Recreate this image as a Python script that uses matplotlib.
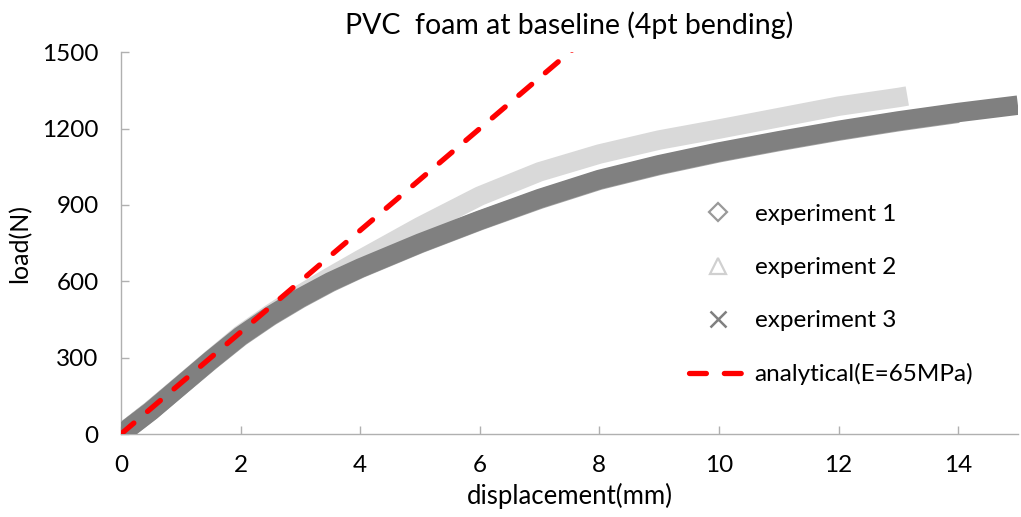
import matplotlib
matplotlib.use("Agg")
import matplotlib.pyplot as plt
from matplotlib.lines import Line2D

plt.rcParams['font.family'] = ['Lato', 'DejaVu Sans']

# ---- data ----
exp1_x = [0.0, 0.5, 1.0, 1.5, 2.0, 2.5, 3.0, 3.5, 4.0, 5.0, 6.0, 7.0, 8.0, 9.0, 10.0, 11.0, 12.0, 13.0, 14.0]
exp1_y = [0, 92, 190, 288, 382, 462, 532, 595, 650, 748, 838, 922, 997, 1055, 1105, 1149, 1190, 1227, 1260]

exp2_x = [0.0, 0.5, 1.0, 1.5, 2.0, 2.5, 3.0, 3.5, 4.0, 5.0, 6.0, 7.0, 8.0, 9.0, 10.0, 11.0, 12.0, 13.0, 13.15]
exp2_y = [0, 92, 192, 292, 390, 472, 548, 618, 685, 815, 935, 1030, 1100, 1155, 1198, 1243, 1288, 1322, 1328]

exp3_x = [0.0, 0.5, 1.0, 1.5, 2.0, 2.5, 3.0, 3.5, 4.0, 5.0, 6.0, 7.0, 8.0, 9.0, 10.0, 11.0, 12.0, 13.0, 14.0, 15.0]
exp3_y = [0, 90, 190, 290, 385, 465, 535, 598, 652, 750, 840, 925, 1000, 1058, 1108, 1152, 1193, 1230, 1263, 1292]

analytical_x = [0.0, 7.55]
analytical_y = [0, 1510]

x_ticks = [0, 2, 4, 6, 8, 10, 12, 14]
y_ticks = [0, 300, 600, 900, 1200, 1500]

labels = ['experiment 1', 'experiment 2', 'experiment 3', 'analytical(E=65MPa)']

# ---- figure ----
fig = plt.figure(figsize=(10.21, 5.17), dpi=100)
ax = fig.add_axes([0.1185, 0.1605, 0.8785, 0.7385])

c1 = '#a6a6a6'
c2 = '#d9d9d9'
c3 = '#808080'
cr = '#ff0000'

band = 14
ax.plot(exp1_x, exp1_y, color=c1, lw=band, solid_capstyle='butt', solid_joinstyle='round', zorder=2)
ax.plot(exp2_x, exp2_y, color=c2, lw=band, solid_capstyle='butt', solid_joinstyle='round', zorder=3)
ax.plot(exp3_x, exp3_y, color=c3, lw=band, solid_capstyle='butt', solid_joinstyle='round', zorder=4)
ax.plot(analytical_x, analytical_y, color=cr, lw=3.8, dashes=(3.2, 3.4),
        dash_capstyle='round', zorder=5)

ax.set_xlim(0, 15)
ax.set_ylim(0, 1500)
ax.set_xticks(x_ticks)
ax.set_yticks(y_ticks)

for s in ['top', 'right']:
    ax.spines[s].set_visible(False)
for s in ['left', 'bottom']:
    ax.spines[s].set_color('#b0b0b0')
    ax.spines[s].set_linewidth(1.0)

ax.tick_params(direction='in', length=6, width=1.0, color='#b0b0b0',
               labelsize=17.5, labelcolor='#000000')
ax.tick_params(axis='x', pad=15)
ax.tick_params(axis='y', pad=16)

ax.set_xlabel('displacement(mm)', fontsize=18.5, labelpad=5)
ax.set_ylabel('load(N)', fontsize=18, labelpad=8)
ax.set_title('PVC  foam at baseline (4pt bending)', fontsize=20.5, pad=13)

handles = [
    Line2D([], [], ls='none', marker='D', markersize=9, markerfacecolor='none',
           markeredgecolor='#999999', markeredgewidth=1.6),
    Line2D([], [], ls='none', marker='^', markersize=11, markerfacecolor='none',
           markeredgecolor='#d0d0d0', markeredgewidth=1.6),
    Line2D([], [], ls='none', marker='x', markersize=12, color='#808080',
           markeredgewidth=1.8),
    Line2D([], [], color=cr, lw=3.8, dashes=(3.2, 3.4), dash_capstyle='round'),
]
leg = ax.legend(handles, labels, loc='upper left', bbox_to_anchor=(0.609, 0.66),
                frameon=False, fontsize=17.5, handlelength=2.4, labelspacing=1.32,
                handletextpad=0.3)

fig.savefig('out.png', dpi=100)
